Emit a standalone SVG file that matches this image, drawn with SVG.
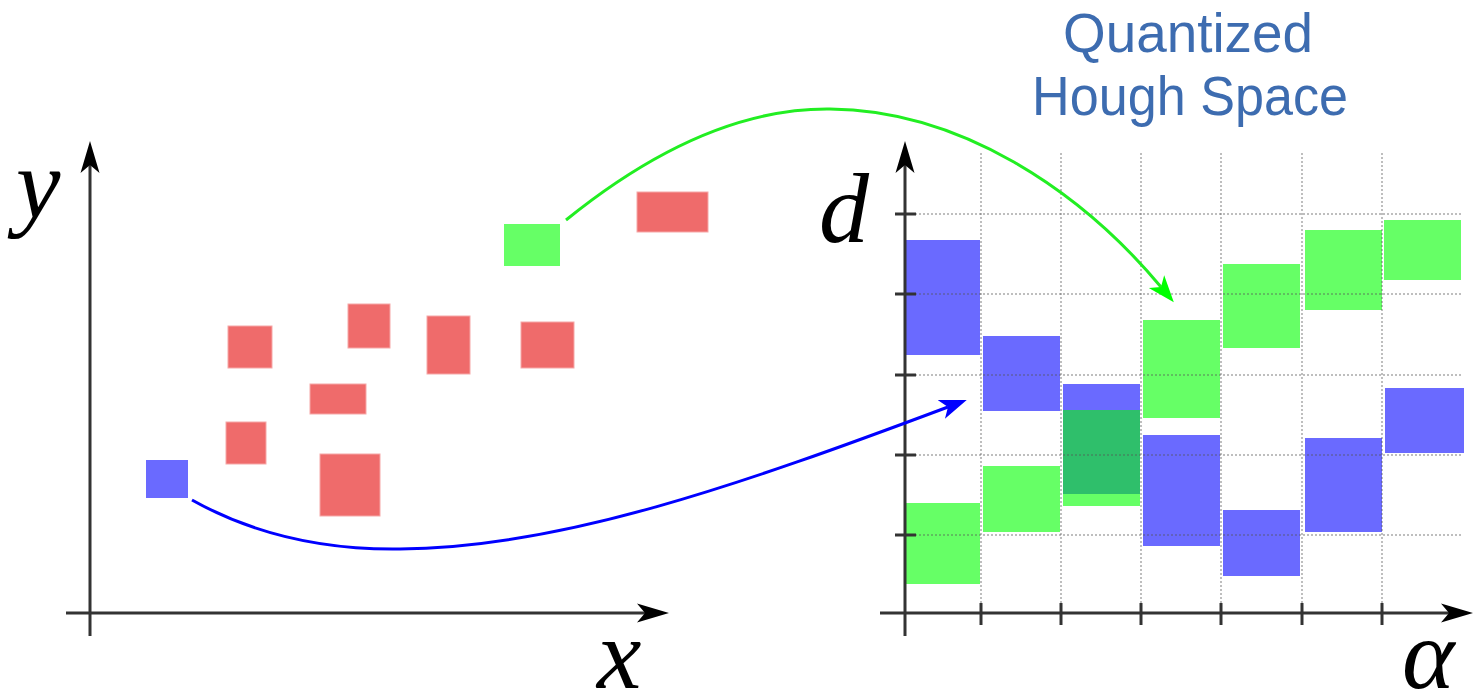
<svg xmlns="http://www.w3.org/2000/svg" width="1476" height="698" viewBox="0 0 1476 698">
<style>
.red{fill:#ef6b6b;stroke:#f6a8a8;stroke-width:1}
.blue{fill:#6a6aff}
.green{fill:#66ff66}
.mix{fill:#2fbf6b}
.axis{stroke:#333;stroke-width:3;fill:none}
.tick{stroke:#333;stroke-width:3}
.hgrid{stroke:#555;stroke-width:1.5;stroke-dasharray:2 2;opacity:0.5}
.vgrid{stroke:#555;stroke-width:1.5;stroke-dasharray:2 2;opacity:0.5}
.math{font-family:"Liberation Serif","DejaVu Serif",serif;font-style:italic;font-size:100px;fill:#000}
.title{font-family:"Liberation Sans","Open Sans",sans-serif;font-size:56px;fill:#3d6cb0;text-anchor:middle}
</style>
<defs>
<marker id="axhead" markerUnits="userSpaceOnUse" viewBox="0 -10 32 20" refX="8" refY="0" markerWidth="32" markerHeight="20" orient="auto">
<path d="M32,0 L0,-9.5 L8,0 L0,9.5 Z" fill="#000"/>
</marker>
<marker id="bluehead" markerUnits="userSpaceOnUse" viewBox="0 -11 28 22" refX="7" refY="0" markerWidth="28" markerHeight="22" orient="auto">
<path d="M27,0 L0,-10 L7,0 L0,10 Z" fill="#0000ff"/>
</marker>
<marker id="greenhead" markerUnits="userSpaceOnUse" viewBox="0 -11 28 22" refX="7" refY="0" markerWidth="28" markerHeight="22" orient="auto">
<path d="M27,0 L0,-10 L7,0 L0,10 Z" fill="#00ff00"/>
</marker>
</defs>
<rect width="1476" height="698" fill="#fff"/>

<g id="title">
<text class="title" x="1188" y="52" textLength="250" lengthAdjust="spacingAndGlyphs">Quantized</text>
<text class="title" x="1190" y="115" textLength="316" lengthAdjust="spacingAndGlyphs">Hough Space</text>
</g>

<g id="left-axes">
<line class="axis" x1="90" y1="636" x2="90" y2="165" marker-end="url(#axhead)"/>
<line class="axis" x1="66" y1="613" x2="645" y2="613" marker-end="url(#axhead)"/>
<text class="math" x="16" y="218">y</text>
<text class="math" x="597" y="688">x</text>
</g>

<g id="image-points">
<rect id="p-red-1" class="red" x="637" y="192" width="71" height="40"/>
<rect id="p-red-2" class="red" x="228" y="326" width="44" height="42"/>
<rect id="p-red-3" class="red" x="348" y="304" width="42" height="44"/>
<rect id="p-red-4" class="red" x="427" y="316" width="43" height="58"/>
<rect id="p-red-5" class="red" x="521" y="322" width="53" height="46"/>
<rect id="p-red-6" class="red" x="310" y="384" width="56" height="30"/>
<rect id="p-red-7" class="red" x="226" y="422" width="40" height="42"/>
<rect id="p-red-8" class="red" x="320" y="454" width="60" height="62"/>
<rect id="p-green" class="green" x="504" y="224" width="56" height="42"/>
<rect id="p-blue" class="blue" x="146" y="460" width="42" height="38"/>
</g>

<g id="hough-blue">
<rect class="blue" x="906" y="240" width="74" height="115"/>
<rect class="blue" x="983" y="336" width="77" height="75"/>
<rect class="blue" x="1063" y="384" width="77" height="110"/>
<rect class="blue" x="1143" y="435" width="77" height="111"/>
<rect class="blue" x="1223" y="510" width="77" height="66"/>
<rect class="blue" x="1305" y="438" width="77" height="94"/>
<rect class="blue" x="1385" y="388" width="79" height="65"/>
</g>
<g id="hough-green">
<rect class="green" x="906" y="503" width="74" height="81"/>
<rect class="green" x="983" y="466" width="77" height="66"/>
<rect class="green" x="1063" y="410" width="77" height="96"/>
<rect class="mix" x="1063" y="410" width="77" height="84"/>
<rect class="green" x="1143" y="320" width="77" height="98"/>
<rect class="green" x="1223" y="264" width="77" height="84"/>
<rect class="green" x="1305" y="230" width="77" height="80"/>
<rect class="green" x="1384" y="220" width="77" height="60"/>
</g>

<g id="hough-grid">
<line class="hgrid" x1="915" y1="214" x2="1463" y2="214"/>
<line class="hgrid" x1="915" y1="294" x2="1463" y2="294"/>
<line class="hgrid" x1="915" y1="375" x2="1463" y2="375"/>
<line class="hgrid" x1="915" y1="455" x2="1463" y2="455"/>
<line class="hgrid" x1="915" y1="535" x2="1463" y2="535"/>
<line class="vgrid" x1="981" y1="153" x2="981" y2="603"/>
<line class="vgrid" x1="1061" y1="153" x2="1061" y2="603"/>
<line class="vgrid" x1="1141" y1="153" x2="1141" y2="603"/>
<line class="vgrid" x1="1221" y1="153" x2="1221" y2="603"/>
<line class="vgrid" x1="1302" y1="153" x2="1302" y2="603"/>
<line class="vgrid" x1="1382" y1="153" x2="1382" y2="603"/>
</g>

<g id="hough-axes">
<line class="axis" x1="905" y1="636" x2="905" y2="165" marker-end="url(#axhead)"/>
<line class="axis" x1="880" y1="613" x2="1449" y2="613" marker-end="url(#axhead)"/>
<line class="tick" x1="895" y1="214" x2="916" y2="214"/>
<line class="tick" x1="895" y1="294" x2="916" y2="294"/>
<line class="tick" x1="895" y1="375" x2="916" y2="375"/>
<line class="tick" x1="895" y1="455" x2="916" y2="455"/>
<line class="tick" x1="895" y1="535" x2="916" y2="535"/>
<line class="tick" x1="981" y1="603" x2="981" y2="625"/>
<line class="tick" x1="1061" y1="603" x2="1061" y2="625"/>
<line class="tick" x1="1141" y1="603" x2="1141" y2="625"/>
<line class="tick" x1="1221" y1="603" x2="1221" y2="625"/>
<line class="tick" x1="1302" y1="603" x2="1302" y2="625"/>
<line class="tick" x1="1382" y1="603" x2="1382" y2="625"/>
<text class="math" x="819" y="242">d</text>
<text class="math" x="1402" y="688">α</text>
</g>

<g id="connectors" fill="none">
<path d="M566,220 C650,152 740,108 830,109 C960,110 1080,190 1161,287" stroke="#22ee22" stroke-width="3" marker-end="url(#greenhead)"/>
<path d="M192,500 C260,538 330,550 400,549 C560,548 740,485 948,407" stroke="#0000ff" stroke-width="3" marker-end="url(#bluehead)"/>
</g>
</svg>
